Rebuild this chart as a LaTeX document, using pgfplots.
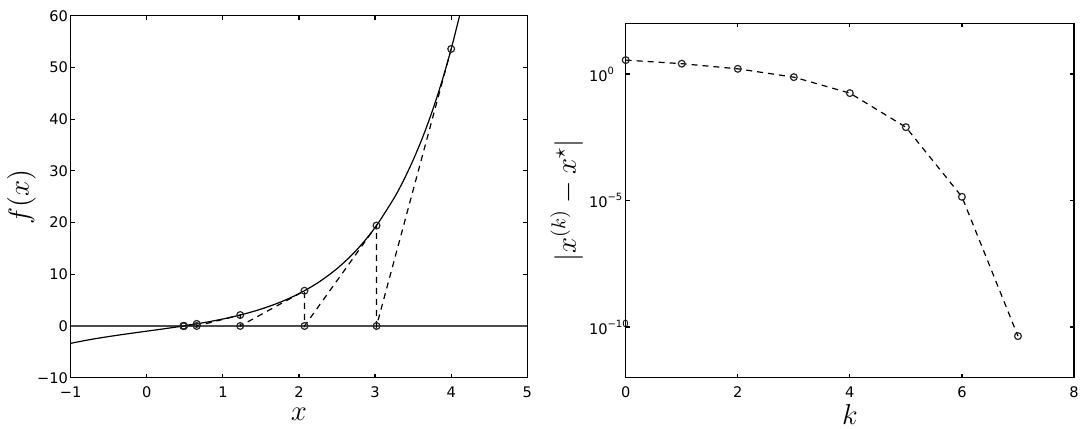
\documentclass[border=0pt]{standalone}
\usepackage{fontspec}
\setmainfont{DejaVu Sans}
\usepackage{pgfplots}
\pgfplotsset{compat=1.18}
\pgfplotsset{
  every axis/.append style={
    scale only axis,
    anchor=south west,
    axis line style={line width=0.7pt},
    every tick/.style={line width=0.6pt, black},
    major tick length=2pt,
    tick align=inside,
    /pgf/number format/assume math mode=true,
    tick label style={font=\fontsize{7.3}{8}\selectfont},
    label style={font=\fontsize{14}{16}\selectfont, inner sep=0pt},
    xticklabel style={inner sep=0pt, anchor=north, yshift=-4.3pt},
    clip=true,
  }
}
\begin{document}
\begin{tikzpicture}
\useasboundingbox (0,0) rectangle (544.5pt,214.5pt);
% ---------------- left panel ----------------
\begin{axis}[
  at={(35.35pt,25.65pt)},
  width=228.3pt, height=181pt,
  xmin=-1, xmax=5, ymin=-10, ymax=60,
  xtick={-1,0,1,2,3,4,5},
  xticklabels={−1,0,1,2,3,4,5},
  ytick={-10,0,10,20,30,40,50,60},
  yticklabels={−10,0,10,20,30,40,50,60},
  yticklabel style={inner sep=0pt, anchor=east, xshift=-1.2pt},
  xlabel={$x$}, ylabel={$f(x)$},
  xlabel style={at={(axis description cs:0.5,-0.101)}, anchor=center},
  ylabel style={at={(axis description cs:-0.1078,0.5)}, anchor=center, rotate=0},
]
\addplot[black!70, line width=0.6pt] coordinates {(-1,0) (5,0)};
\addplot[black, line width=0.6pt, smooth] coordinates {
(-1,-3.3504) (-0.75,-2.6446) (-0.5,-2.0422) (-0.25,-1.5052) (0,-1)
(0.25,-0.4948) (0.5,0.0422) (0.75,0.6446) (1,1.3504) (1.25,2.2038)
(1.5,3.2586) (1.75,4.5808) (2,6.2537) (2.25,8.3824) (2.5,11.1004)
(2.75,14.5787) (3,19.0357) (3.25,24.7515) (3.375,28.1901) (3.5,32.0852)
(3.625,36.4952) (3.75,41.4976) (3.875,47.1573) (4,53.5798) (4.125,60.85)
};
\addplot[black, line width=0.6pt, dash pattern=on 3pt off 2.5pt,
  mark=o, mark size=1.7pt, mark options={solid, fill=black!25, draw=black!85, line width=0.6pt}]
coordinates {
(4,53.5798) (3.01898,0) (3.01898,19.4216) (2.07248,0) (2.07248,6.8186)
(1.22759,0) (1.22759,2.1200) (0.65554,0) (0.65554,0.4070) (0.48909,0)
(0.48909,0.0177) (0.48123,0) (0.48123,0.00003)
};
\end{axis}
% ---------------- right panel ----------------
\begin{axis}[
  at={(312.85pt,25.65pt)},
  width=224.15pt, height=177.2pt,
  ymode=log,
  xmin=0, xmax=8, ymin=1e-12, ymax=1e2,
  xtick={0,2,4,6,8},
  ytick={1e-10,1e-5,1},
  yminorticks=false,
  yticklabels={10\rlap{\raisebox{3.5pt}{\fontsize{5}{5}\selectfont −10}},
               10\rlap{\raisebox{3.5pt}{\fontsize{5}{5}\selectfont −5}},
               10\rlap{\raisebox{3.5pt}{\fontsize{5}{5}\selectfont 0}}},
  yticklabel style={inner sep=0pt, anchor=east, xshift=-8.85pt},
  xlabel={$k$}, ylabel={$|x^{(k)}-x^\star|$},
  xlabel style={at={(axis description cs:0.5,-0.105)}, anchor=center},
  ylabel style={at={(axis description cs:-0.1316,0.5)}, anchor=center},
]
\addplot[black, line width=0.6pt, dash pattern=on 3pt off 2.5pt,
  mark=o, mark size=1.7pt, mark options={solid, fill=white, draw=black!85, line width=0.6pt}]
coordinates {
(0,3.5188) (1,2.5378) (2,1.5913) (3,0.7464) (4,0.1743) (5,0.007881) (6,1.40e-5) (7,4.4e-11)
};
\end{axis}
\end{tikzpicture}
\end{document}
